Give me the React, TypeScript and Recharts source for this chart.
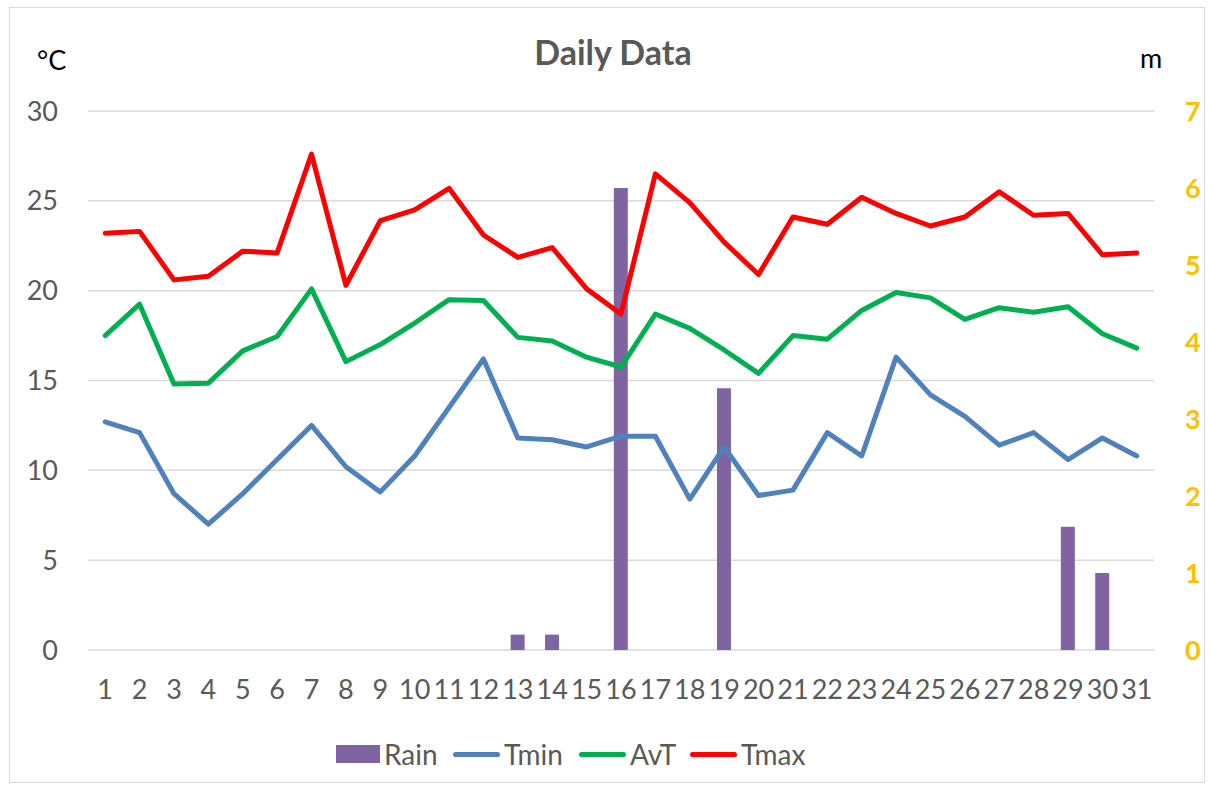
import React from "react";
import {
  ComposedChart,
  Bar,
  Line,
  XAxis,
  YAxis,
  CartesianGrid,
} from "recharts";

const days = [
  "1", "2", "3", "4", "5", "6", "7", "8", "9", "10", "11", "12", "13", "14", "15", "16",
  "17", "18", "19", "20", "21", "22", "23", "24", "25", "26", "27", "28", "29", "30", "31",
];
const rain = [
  0, 0, 0, 0, 0, 0, 0, 0, 0, 0, 0, 0, 0.2, 0.2, 0, 6.0,
  0, 0, 3.4, 0, 0, 0, 0, 0, 0, 0, 0, 0, 1.6, 1.0, 0,
];
const tmin = [
  12.7, 12.1, 8.7, 7.0, 8.7, 10.6, 12.5, 10.2, 8.8, 10.8, 13.5, 16.2, 11.8, 11.7, 11.3, 11.9,
  11.9, 8.4, 11.3, 8.6, 8.9, 12.1, 10.8, 16.3, 14.2, 13.0, 11.4, 12.1, 10.6, 11.8, 10.8,
];
const avt = [
  17.5, 19.25, 14.8, 14.85, 16.65, 17.45, 20.1, 16.05, 17.0, 18.2, 19.5, 19.45, 17.4, 17.2, 16.3, 15.75,
  18.7, 17.9, 16.7, 15.4, 17.5, 17.3, 18.9, 19.9, 19.6, 18.4, 19.05, 18.8, 19.1, 17.6, 16.8,
];
const tmax = [
  23.2, 23.3, 20.6, 20.8, 22.2, 22.1, 27.6, 20.3, 23.9, 24.5, 25.7, 23.1, 21.85, 22.4, 20.1, 18.7,
  26.5, 24.9, 22.7, 20.9, 24.1, 23.7, 25.2, 24.3, 23.6, 24.1, 25.5, 24.2, 24.3, 22.0, 22.1,
];
const leftTicks = [0, 5, 10, 15, 20, 25, 30];
const rightTicks = [0, 1, 2, 3, 4, 5, 6, 7];

const COLORS = {
  rain: "#8064A2",
  tmin: "#4F81BD",
  avt: "#00B050",
  tmax: "#FF0000",
};

const data = days.map((d, i) => ({
  day: d,
  rain: rain[i],
  tmin: tmin[i],
  avt: avt[i],
  tmax: tmax[i],
}));

const FONT = "Lato, 'Open Sans', sans-serif";

const legendItems = [
  { name: "Rain", color: COLORS.rain, type: "rect", w: 117 },
  { name: "Tmin", color: COLORS.tmin, type: "line", w: 126 },
  { name: "AvT", color: COLORS.avt, type: "line", w: 111 },
  { name: "Tmax", color: COLORS.tmax, type: "line", w: 120 },
];

export default function App() {
  return (
    <div
      style={{
        position: "absolute",
        left: 0,
        top: 0,
        width: 1214,
        height: 791,
        background: "#fff",
        fontFamily: FONT,
      }}
    >
      <div
        style={{
          position: "absolute",
          left: 9,
          top: 7,
          width: 1196,
          height: 776,
          border: "1px solid #d9d9d9",
          boxSizing: "border-box",
        }}
      />
      <ComposedChart
        width={1214}
        height={791}
        data={data}
        margin={{ top: 111, right: 0, left: 0, bottom: 81 }}
        style={{ position: "absolute", left: 0, top: 0 }}
      >
        <CartesianGrid
          yAxisId="left"
          vertical={false}
          stroke="#d9d9d9"
          strokeWidth={1.5}
        />
        <XAxis
          dataKey="day"
          axisLine={false}
          tickLine={false}
          tickSize={0}
          tickMargin={30}
          height={60}
          interval={0}
          tick={{ fill: "#595959", fontSize: 27, fontFamily: FONT }}
        />
        <YAxis
          yAxisId="left"
          orientation="left"
          width={88}
          domain={[0, 30]}
          ticks={leftTicks}
          axisLine={false}
          tickLine={false}
          tickSize={0}
          tickMargin={30}
          tick={{ fill: "#595959", fontSize: 27, fontFamily: FONT }}
        />
        <YAxis
          yAxisId="right"
          orientation="right"
          width={60}
          domain={[0, 7]}
          ticks={rightTicks}
          axisLine={false}
          tickLine={false}
          tickSize={0}
          tickMargin={31}
          tick={{ fill: "#FFC000", fontSize: 27, fontWeight: "bold", fontFamily: FONT }}
        />
        <Bar
          yAxisId="right"
          dataKey="rain"
          name="Rain"
          fill={COLORS.rain}
          barSize={14}
          isAnimationActive={false}
        />
        <Line
          yAxisId="left"
          type="linear"
          dataKey="tmin"
          name="Tmin"
          stroke={COLORS.tmin}
          strokeWidth={5}
          strokeLinecap="round"
          strokeLinejoin="round"
          dot={false}
          activeDot={false}
          isAnimationActive={false}
        />
        <Line
          yAxisId="left"
          type="linear"
          dataKey="avt"
          name="AvT"
          stroke={COLORS.avt}
          strokeWidth={5}
          strokeLinecap="round"
          strokeLinejoin="round"
          dot={false}
          activeDot={false}
          isAnimationActive={false}
        />
        <Line
          yAxisId="left"
          type="linear"
          dataKey="tmax"
          name="Tmax"
          stroke={COLORS.tmax}
          strokeWidth={5}
          strokeLinecap="round"
          strokeLinejoin="round"
          dot={false}
          activeDot={false}
          isAnimationActive={false}
        />
      </ComposedChart>
      <div
        style={{
          position: "absolute",
          left: 0,
          top: 31,
          width: 1226,
          textAlign: "center",
          fontSize: 34,
          fontWeight: "bold",
          color: "#595959",
          lineHeight: "42px",
        }}
      >
        Daily Data
      </div>
      <div
        style={{
          position: "absolute",
          left: 37,
          top: 44,
          fontSize: 27,
          color: "#000",
          lineHeight: "32px",
        }}
      >
        °C
      </div>
      <div
        style={{
          position: "absolute",
          left: 1140,
          top: 42,
          fontSize: 27,
          color: "#000",
          lineHeight: "32px",
        }}
      >
        m
      </div>
      <div
        style={{
          position: "absolute",
          left: 336,
          top: 736,
          height: 36,
          display: "flex",
          alignItems: "center",
          fontSize: 28,
          color: "#595959",
        }}
      >
        {legendItems.map((it) => (
          <div
            key={it.name}
            style={{
              display: "flex",
              alignItems: "center",
              width: it.w,
              whiteSpace: "nowrap",
            }}
          >
            {it.type === "rect" ? (
              <div style={{ width: 44, height: 18, background: it.color, flex: "none" }} />
            ) : (
              <div
                style={{
                  width: 47,
                  height: 5,
                  borderRadius: 3,
                  background: it.color,
                  flex: "none",
                }}
              />
            )}
            <span style={{ marginLeft: 4 }}>{it.name}</span>
          </div>
        ))}
      </div>
    </div>
  );
}
